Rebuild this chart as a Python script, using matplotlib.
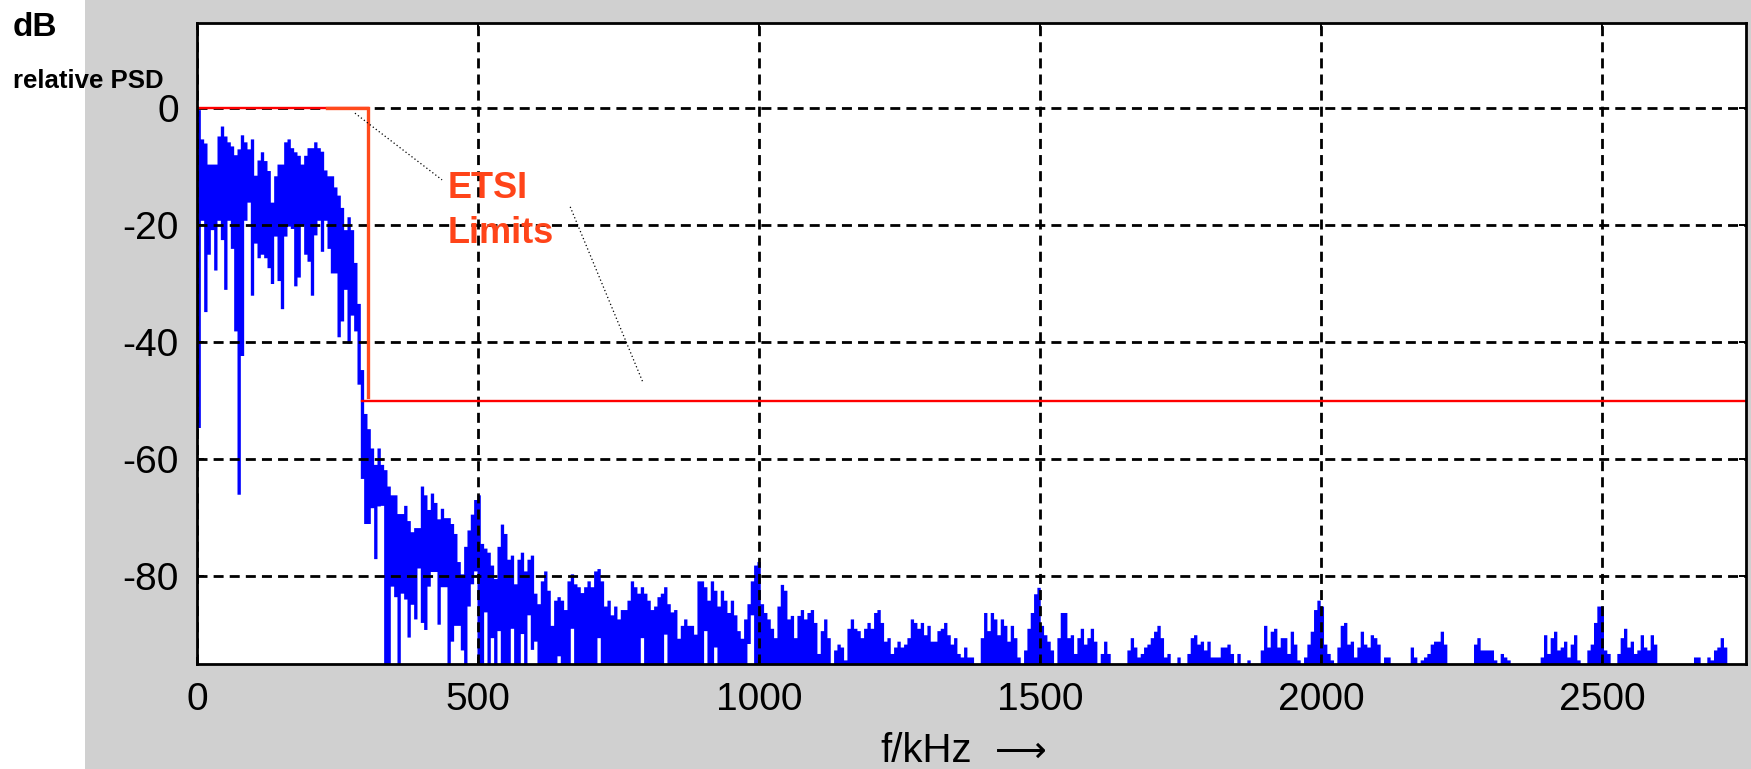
import numpy as np
import matplotlib
matplotlib.use("Agg")
import matplotlib.pyplot as plt
from matplotlib.patches import Rectangle

plt.rcParams['font.family'] = ['Liberation Sans', 'DejaVu Sans']

# width of one frequency column of the spectrum trace (kHz)
df_khz = 5.93

# top of the PSD trace per column (dB)
psd_hi = [
    -0.3, -5.3, -6.0, -9.6, -9.6, -9.6, -4.8, -3.1, -4.8, -5.8,
    -6.5, -8.0, -7.0, -4.6, -5.8, -7.0, -5.3, -11.5, -8.9, -7.5,
    -9.0, -10.7, -16.1, -11.6, -9.6, -9.6, -5.8, -5.3, -6.8, -7.5,
    -8.1, -9.6, -8.1, -6.8, -6.8, -5.8, -6.8, -7.4, -10.6, -11.6,
    -11.6, -13.5, -14.9, -17.0, -20.8, -18.6, -20.8, -26.4, -33.4, -44.7,
    -52.2, -54.8, -58.1, -60.9, -58.1, -60.9, -61.8, -64.6, -66.1, -66.1,
    -69.3, -69.3, -67.9, -70.5, -72.4, -71.7, -71.7, -64.6, -66.1, -68.6,
    -65.8, -67.4, -70.2, -68.4, -70.0, -70.0, -71.0, -72.7, -77.5, -79.6,
    -74.9, -72.1, -69.4, -66.9, -66.1, -74.4, -75.2, -75.9, -78.1, -80.4,
    -74.9, -71.1, -72.7, -77.1, -76.4, -81.3, -77.1, -75.9, -79.1, -77.1,
    -76.4, -82.9, -84.7, -80.8, -79.1, -82.4, -88.4, -84.1, -83.5, -84.1,
    -85.7, -80.8, -79.6, -81.3, -81.8, -82.8, -81.8, -80.8, -81.8, -79.1,
    -78.7, -80.8, -85.1, -84.1, -86.6, -85.1, -87.3, -85.7, -85.7, -84.1,
    -80.8, -81.8, -82.9, -81.8, -82.9, -84.1, -85.7, -85.1, -83.5, -82.9,
    -81.8, -84.7, -86.1, -85.7, -90.6, -88.4, -87.3, -88.4, -88.4, -89.9,
    -80.8, -80.8, -81.8, -84.1, -80.8, -82.4, -85.1, -82.4, -84.1, -86.2,
    -84.1, -86.6, -89.3, -90.6, -87.3, -84.7, -80.8, -78.1, -77.5, -84.7,
    -86.2, -87.3, -88.9, -90.5, -85.1, -81.4, -82.4, -87.3, -86.7, -90.5,
    -86.7, -85.7, -87.3, -86.2, -85.7, -87.9, -93.2, -89.3, -87.3, -90.5,
    -100, -92.6, -91.6, -92.1, -94.3, -88.9, -87.3, -88.9, -89.3, -90.5,
    -88.9, -87.9, -88.9, -86.2, -85.7, -87.9, -91.1, -90.5, -93.2, -92.1,
    -91.1, -92.1, -91.6, -90.5, -87.3, -87.9, -88.9, -87.9, -90.0, -88.4,
    -91.1, -91.1, -89.3, -88.9, -87.9, -90.0, -91.6, -90.5, -93.2, -93.8,
    -92.1, -93.8, -93.8, -94.9, -94.9, -90.5, -86.2, -89.3, -86.2, -87.3,
    -90.0, -87.3, -88.4, -91.1, -88.4, -90.5, -93.8, -94.9, -92.6, -88.9,
    -86.2, -83.0, -81.9, -88.4, -90.0, -91.1, -92.6, -94.9, -90.5, -86.2,
    -86.2, -90.5, -90.0, -93.2, -90.5, -88.9, -91.6, -90.5, -88.9, -91.1,
    -100, -93.2, -91.1, -93.2, -100, -100, -94.9, -100, -100, -92.6,
    -90.5, -92.1, -93.8, -93.2, -92.1, -91.6, -90.5, -89.4, -88.4, -90.5,
    -93.8, -93.2, -100, -94.9, -93.8, -94.9, -100, -93.2, -90.5, -90.0,
    -91.6, -91.1, -92.6, -91.1, -93.8, -93.8, -93.8, -92.1, -92.1, -91.6,
    -93.2, -100, -93.2, -94.9, -100, -94.3, -100, -100, -100, -92.6,
    -88.4, -92.1, -89.4, -88.9, -92.1, -90.5, -90.5, -93.2, -89.4, -91.6,
    -94.3, -100, -93.8, -91.6, -89.4, -85.7, -84.1, -85.1, -91.6, -93.2,
    -94.3, -100, -92.1, -88.4, -87.9, -91.6, -91.1, -93.8, -92.1, -89.4,
    -91.6, -92.1, -90.0, -90.5, -91.6, -100, -93.8, -93.8, -94.9, -100,
    -100, -100, -100, -100, -92.1, -93.8, -94.9, -94.3, -93.8, -93.2,
    -91.6, -91.1, -91.1, -89.4, -91.6, -100, -100, -100, -100, -100,
    -100, -100, -100, -91.6, -90.5, -92.6, -92.6, -92.6, -92.6, -94.3,
    -100, -93.2, -93.8, -94.3, -100, -100, -94.9, -100, -100, -94.9,
    -100, -100, -100, -93.8, -90.0, -93.2, -90.5, -89.4, -92.6, -92.1,
    -91.1, -93.8, -91.6, -90.0, -94.3, -100, -100, -92.6, -91.6, -87.9,
    -85.1, -85.1, -92.6, -93.2, -94.9, -100, -93.2, -90.5, -88.9, -92.1,
    -91.1, -93.2, -92.6, -90.0, -92.1, -92.6, -90.0, -91.6, -100, -100,
    -100, -100, -100, -100, -100, -100, -100, -100, -100, -93.8,
    -93.8, -100, -94.9, -93.8, -94.3, -92.6, -92.1, -90.5, -92.1, -100,
    -100, -100, -100, -100, -100,
]

# bottom of the trace for the first columns (dB); further right it runs off the axis
psd_lo = [
    -54.6, -19.2, -34.8, -25.0, -20.8, -27.7, -19.2, -22.5, -31.0, -19.2,
    -24.0, -38.1, -66.0, -42.3, -19.2, -16.1, -32.0, -23.1, -25.6, -25.0,
    -25.6, -27.3, -30.0, -21.9, -29.5, -34.3, -21.9, -20.2, -20.6, -30.4,
    -28.9, -20.0, -25.0, -26.2, -32.0, -21.7, -19.2, -24.5, -19.2, -24.0,
    -28.2, -28.2, -39.1, -36.4, -31.0, -40.2, -35.4, -38.1, -47.2, -63.3,
    -71.0, -71.0, -68.3, -77.0, -68.0, -67.9, -100, -100, -81.7, -83.5,
    -100, -82.9, -83.9, -90.4, -84.8, -87.3, -78.6, -87.9, -89.1, -81.7,
    -79.2, -79.2, -88.2, -81.8, -81.8, -100, -91.1, -88.4, -88.4, -92.6,
    -100, -85.1, -81.3, -79.1, -100, -100, -86.1, -100, -90.5, -100,
    -89.3, -100, -100, -100, -88.9, -100, -100, -89.8, -100, -86.6,
    -92.5, -91.1, -100, -100, -100, -100, -100, -100, -93.6, -100,
    -100, -100, -88.9, -100, -100, -100, -100, -100, -100, -100,
    -90.5, -100, -100, -100, -100, -100, -100, -100, -100, -100,
    -100, -100, -100, -90.5, -100, -100, -100, -100, -100, -100,
    -89.9, -100, -100, -100, -100, -100, -100, -100, -100, -100,
    -100, -100, -89.3, -100, -100, -92.1, -100, -100, -100, -100,
    -100, -100, -100, -100, -100, -91.5, -86.6, -100, -100,
]

# ETSI spectral mask (kHz, dB)
limit_f = [0, 304, 304, 2756]
limit_db = [0, 0, -50, -50]

x_ticks = [0, 500, 1000, 1500, 2000, 2500]
y_ticks = [0, -20, -40, -60, -80]

# dotted pointer lines from the label to the mask (kHz, dB)
pointers = [((281, -0.9), (436, -12.3)), ((664, -16.9), (793, -46.8))]

floor_db = -100

W, H = 1751, 769
fig = plt.figure(figsize=(W / 100, H / 100), dpi=100)
fig.patch.set_facecolor('white')
fig.add_artist(Rectangle((85 / W, 0), 1, 1, transform=fig.transFigure,
                         facecolor='#d0d0d0', edgecolor='none', zorder=-10))

ax = fig.add_axes([197 / W, 105 / H, 1549 / W, 641 / H])
ax.set_facecolor('white')

hi = np.array(psd_hi, dtype=float)
lo = np.full(hi.size, floor_db, dtype=float)
lo[:len(psd_lo)] = psd_lo
lo = np.minimum(lo, hi)
edges = np.arange(hi.size + 1) * df_khz
ax.fill_between(edges, np.append(lo, lo[-1]), np.append(hi, hi[-1]),
                step='post', color='#0000ff', linewidth=0, zorder=2)

# mask: red line with the orange overlay on the passband edge
ax.plot(limit_f[:2], limit_db[:2], color='#ff0000', lw=1.7, zorder=4)
ax.plot([293, limit_f[3]], limit_db[2:], color='#ff0000', lw=1.7, zorder=4)
ax.plot([231, limit_f[1], limit_f[2]], [0, 0, -49.4], color='#ff4a1c',
        lw=2.4, zorder=5, solid_joinstyle='miter')

for (x0, y0), (x1, y1) in pointers:
    ax.plot([x0, x1], [y0, y1], color='black', lw=0.9,
            linestyle=(0, (1, 2)), zorder=5)

ax.text(446, -15.4, 'ETSI', color='#ff4419', fontsize=26, fontweight='bold',
        va='baseline', ha='left', zorder=6)
ax.text(446, -23.1, 'Limits', color='#ff4419', fontsize=26, fontweight='bold',
        va='baseline', ha='left', zorder=6)

ax.set_xlim(0, 2756)
ax.set_ylim(-95, 14.5)
ax.set_xticks(x_ticks)
ax.set_yticks(y_ticks)
ax.set_xticklabels([str(v) for v in x_ticks])
ax.set_yticklabels([str(v) for v in y_ticks])
ax.grid(True, color='black', lw=2.0, linestyle=(0, (3.6, 2.2)))
ax.set_axisbelow(False)
ax.tick_params(direction='in', length=5, width=1.4, top=True, right=True,
               labelsize=28, pad=13)
for sp in ax.spines.values():
    sp.set_linewidth(2.0)
    sp.set_color('black')
    sp.set_zorder(7)

# x axis caption, long arrow taken from DejaVu Sans
fig.text(880 / W, 1 - 762 / H, 'f/kHz', fontsize=29, ha='left',
         va='baseline')
fig.text(995 / W, 1 - 762 / H, '\u27f6', fontsize=26, ha='left',
         va='baseline', family='DejaVu Sans')
fig.text(13 / W, 1 - 36 / H, 'dB', fontsize=24, fontweight='bold',
         va='baseline', ha='left')
fig.text(13 / W, 1 - 88 / H, 'relative PSD', fontsize=18.5, fontweight='bold',
         va='baseline', ha='left')

fig.savefig('out.png', dpi=100)
